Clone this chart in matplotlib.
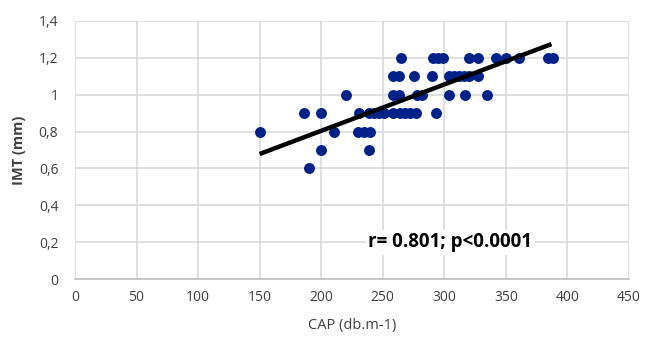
import matplotlib
matplotlib.use("Agg")
import matplotlib.pyplot as plt

plt.rcParams['font.family'] = ['Open Sans', 'DejaVu Sans']

# CAP (x) and IMT (y) values
cap = [190,
       200, 239,
       150, 210, 230, 235, 240,
       186, 200, 231, 239, 243, 247, 251, 258, 264, 268, 272, 277, 293,
       220, 258, 263, 278, 282, 304, 317, 335,
       258, 263, 275, 290, 304, 308, 312, 316, 320, 327,
       265, 291, 295, 299, 320, 327, 342, 350, 361, 384, 388]
imt = [0.6,
       0.7, 0.7,
       0.8, 0.8, 0.8, 0.8, 0.8,
       0.9, 0.9, 0.9, 0.9, 0.9, 0.9, 0.9, 0.9, 0.9, 0.9, 0.9, 0.9, 0.9,
       1.0, 1.0, 1.0, 1.0, 1.0, 1.0, 1.0, 1.0,
       1.1, 1.1, 1.1, 1.1, 1.1, 1.1, 1.1, 1.1, 1.1, 1.1,
       1.2, 1.2, 1.2, 1.2, 1.2, 1.2, 1.2, 1.2, 1.2, 1.2, 1.2]

# linear trend line
trend_x = [150, 387]
slope = 0.00251
intercept = 0.302

xticks = [0, 50, 100, 150, 200, 250, 300, 350, 400, 450]
yticks = [0, 0.2, 0.4, 0.6, 0.8, 1.0, 1.2, 1.4]
ytick_labels = ['0', '0,2', '0,4', '0,6', '0,8', '1', '1,2', '1,4']

fig = plt.figure(figsize=(6.46, 3.39), dpi=100)
ax = fig.add_axes([75 / 646, 59.7 / 339, 554 / 646, 258.6 / 339])

ax.scatter(cap, imt, s=62, color='#002288', zorder=3, linewidths=0)
ax.plot(trend_x, [intercept + slope * x for x in trend_x],
        color='black', lw=3.2, solid_capstyle='butt', zorder=4)

ax.set_xlim(0, 450)
ax.set_ylim(0, 1.4)
ax.set_xticks(xticks)
ax.set_yticks(yticks)
ax.set_yticklabels(ytick_labels)
ax.grid(True, color='#d9d9d9', lw=1.2)
ax.set_axisbelow(True)
for side in ['top', 'right', 'left']:
    ax.spines[side].set_visible(False)
ax.spines['bottom'].set_color('#bfbfbf')
ax.spines['bottom'].set_linewidth(1.2)
ax.tick_params(axis='both', length=0, labelsize=10, colors='#404040')
ax.tick_params(axis='x', pad=8)
ax.tick_params(axis='y', pad=12)

ax.set_xlabel('CAP (db.m-1)', fontsize=10.5, color='#404040', labelpad=9)
ax.set_ylabel('IMT (mm)', fontsize=10.5, fontweight='bold', color='#404040', labelpad=9)

ax.text(305, 0.20, 'r= 0.801; p<0.0001', fontsize=13.5, fontweight='bold',
        ha='center', va='center', color='black', zorder=5,
        bbox=dict(facecolor='white', edgecolor='none', pad=2))

fig.savefig('out.png', dpi=100)
